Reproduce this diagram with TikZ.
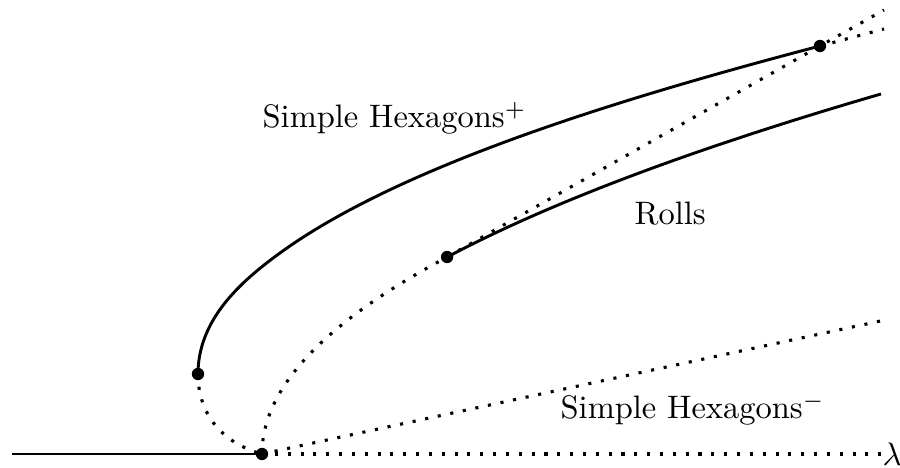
\documentclass[tikz,border=0pt]{standalone}
\begin{document}
\begin{tikzpicture}[x=0.3077pt,y=-0.3077pt,
  solidcurve/.style={line width=0.9pt},
  dotcurve/.style={line width=0.95pt, dash pattern=on 0.95pt off 3pt},
  bdot/.style={circle, fill=black, inner sep=0pt, minimum size=3.8pt},
  lab/.style={anchor=base west, inner sep=0pt}]
\useasboundingbox (0,0) rectangle (900,468);
% key points
\coordinate (L) at (12,454);
\coordinate (O) at (262,454);
\coordinate (E) at (884,454);
\coordinate (H) at (198,374);
\coordinate (P) at (280,253);
\coordinate (R) at (447.1,257);
\coordinate (T) at (820,46);
\coordinate (Tr) at (884,10);
\coordinate (Th) at (884,29);
\coordinate (Hm) at (885,320);
% trivial state
\draw[solidcurve] (L) -- (O);
\draw[dotcurve] (O) -- (E);
% hexagons minus
\draw[dotcurve] (O) -- (Hm);
% hexagons plus
\draw[dotcurve] (H) .. controls (198,414) and (222,443) .. (O);
\draw[solidcurve] (H) .. controls (198,320) and (240,282) .. (P)
  .. controls (400,165.8) and (620,98.5) .. (T);
\draw[dotcurve] (T) -- (Th);
% rolls
\draw[dotcurve] plot[domain=0:197, samples=60] ({262+0.00477*\x*\x},{454-\x});
\draw[solidcurve] plot[domain=197:360, samples=60] ({262+0.00477*\x*\x},{454-\x});
% unstable branch
\draw[dotcurve] (R) -- (T) -- (Tr);
% dots
\node[bdot] (nO) at (O) {};
\node[bdot] (nH) at (H) {};
\node[bdot] (nR) at (R) {};
\node[bdot] (nT) at (T) {};
% labels
\node[lab] (lhp) at (262,128) {Simple Hexagons$^+$};
\node[lab] (lr) at (634,225) {Rolls};
\node[lab] (lhm) at (560,419) {Simple Hexagons$^-$};
\node[anchor=west, inner sep=0pt] (lam) at (882,454) {$\lambda$};
\end{tikzpicture}
\end{document}
